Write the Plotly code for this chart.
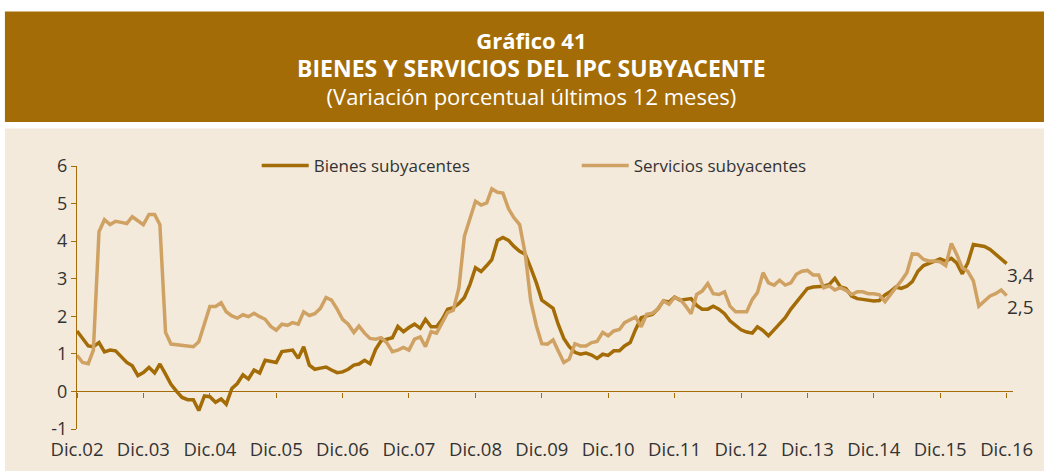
import pandas as pd
import plotly.graph_objects as go

# Monthly data, Dec-2002 .. Dec-2016
start_month = "2002-12-01"
n_months = 169
months = pd.date_range(start_month, periods=n_months, freq="MS")

bienes = [
    1.61, 1.41, 1.21, 1.19, 1.30, 1.05, 1.10, 1.08, 0.92, 0.77, 0.68, 0.42,
    0.50, 0.64, 0.49, 0.73, 0.46, 0.19, 0.00, -0.16, -0.22, -0.22, -0.51, -0.12,
    -0.14, -0.29, -0.20, -0.34, 0.08, 0.21, 0.44, 0.33, 0.57, 0.49, 0.83, 0.79,
    0.77, 1.06, 1.08, 1.10, 0.88, 1.19, 0.70, 0.59, 0.62, 0.65, 0.57, 0.50,
    0.52, 0.59, 0.70, 0.73, 0.83, 0.74, 1.12, 1.35, 1.39, 1.43, 1.73, 1.59,
    1.70, 1.79, 1.68, 1.92, 1.72, 1.72, 1.92, 2.19, 2.23, 2.34, 2.50, 2.85,
    3.29, 3.19, 3.35, 3.51, 4.02, 4.10, 4.02, 3.86, 3.73, 3.65, 3.29, 2.89,
    2.43, 2.32, 2.21, 1.79, 1.41, 1.19, 1.04, 0.99, 1.02, 0.97, 0.88, 0.99,
    0.96, 1.08, 1.08, 1.21, 1.30, 1.65, 1.96, 2.01, 2.05, 2.20, 2.41, 2.38,
    2.51, 2.43, 2.45, 2.47, 2.29, 2.19, 2.19, 2.27, 2.19, 2.07, 1.88, 1.76,
    1.64, 1.58, 1.55, 1.72, 1.62, 1.48, 1.65, 1.79, 1.96, 2.19, 2.36, 2.56,
    2.74, 2.78, 2.78, 2.80, 2.85, 3.01, 2.78, 2.74, 2.54, 2.47, 2.45, 2.43,
    2.41, 2.42, 2.57, 2.65, 2.78, 2.74, 2.80, 2.92, 3.20, 3.35, 3.42, 3.47,
    3.53, 3.47, 3.54, 3.42, 3.13, 3.42, 3.91, 3.89, 3.86, 3.78, 3.66, 3.54,
    3.40,
]

servicios = [
    0.96, 0.77, 0.74, 1.10, 4.25, 4.57, 4.44, 4.53, 4.50, 4.47, 4.65, 4.53,
    4.44, 4.71, 4.71, 4.44, 1.57, 1.26, 1.24, 1.22, 1.20, 1.19, 1.32, 1.79,
    2.26, 2.26, 2.36, 2.12, 2.01, 1.95, 2.04, 1.99, 2.08, 1.99, 1.92, 1.73,
    1.63, 1.79, 1.76, 1.83, 1.79, 2.12, 2.02, 2.07, 2.21, 2.50, 2.43, 2.19,
    1.92, 1.79, 1.57, 1.74, 1.55, 1.41, 1.39, 1.43, 1.30, 1.06, 1.10, 1.17,
    1.10, 1.39, 1.45, 1.19, 1.59, 1.55, 1.83, 2.10, 2.16, 2.76, 4.13, 4.62,
    5.06, 4.96, 5.02, 5.39, 5.30, 5.28, 4.86, 4.62, 4.44, 3.65, 2.41, 1.75,
    1.27, 1.26, 1.37, 1.08, 0.77, 0.86, 1.27, 1.21, 1.21, 1.30, 1.33, 1.57,
    1.48, 1.61, 1.65, 1.83, 1.90, 1.98, 1.72, 2.05, 2.08, 2.19, 2.41, 2.32,
    2.50, 2.45, 2.27, 2.07, 2.58, 2.67, 2.87, 2.60, 2.58, 2.65, 2.27, 2.12,
    2.12, 2.12, 2.45, 2.63, 3.16, 2.89, 2.83, 2.96, 2.83, 2.89, 3.12, 3.20,
    3.22, 3.10, 3.10, 2.76, 2.81, 2.70, 2.76, 2.69, 2.58, 2.65, 2.65, 2.60,
    2.60, 2.57, 2.39, 2.58, 2.76, 2.94, 3.16, 3.66, 3.65, 3.51, 3.47, 3.47,
    3.45, 3.35, 3.94, 3.65, 3.29, 3.20, 2.94, 2.27, 2.41, 2.54, 2.60, 2.70,
    2.55,
]

tick_dates = [f"{y}-12-01" for y in range(2002, 2017)]
tick_labels = [f"Dic.{y % 100:02d}" for y in range(2002, 2017)]
y_ticks = [-1, 0, 1, 2, 3, 4, 5, 6]
y_tick_labels = ["-1", "0", "1", "2", "3", "4", "5", "6"]
end_labels = ["3,4", "2,5"]

title_line1 = "Gráfico 41"
title_line2 = "BIENES Y SERVICIOS DEL IPC SUBYACENTE"
title_line3 = "(Variación porcentual últimos 12 meses)"

DARK = "#A36C06"
LIGHT = "#CFA263"
PANEL = "#F3EADC"
TEXT = "#333333"
FONT = "Open Sans"

fig = go.Figure()
fig.add_trace(go.Scatter(x=months, y=bienes, mode="lines", name="Bienes subyacentes",
                         line=dict(color=DARK, width=3.5)))
fig.add_trace(go.Scatter(x=months, y=servicios, mode="lines", name="Servicios subyacentes",
                         line=dict(color=LIGHT, width=3.5)))

# background panel and title band (paper coordinates)
fig.add_shape(type="rect", xref="paper", yref="paper", x0=-0.077, x1=1.04, y0=-0.3, y1=1.143,
              fillcolor=PANEL, line_width=0, layer="below")
fig.add_shape(type="rect", xref="paper", yref="paper", x0=-0.077, x1=1.04, y0=1.167, y1=1.587,
              fillcolor=DARK, line_width=0, layer="below")

title_text = (f"<span style='font-size:22px'><b>{title_line1}</b></span><br>"
              f"<span style='font-size:23px'><b>{title_line2}</b></span><br>"
              f"<span style='font-size:22px'>{title_line3}</span>")
fig.add_annotation(xref="paper", yref="paper", x=0.486, y=1.372, text=title_text,
                   showarrow=False, xanchor="center", yanchor="middle", align="center",
                   font=dict(family=FONT, size=21.5, color="white"))

# end labels
for val, txt in zip([bienes[-1], servicios[-1]], end_labels):
    fig.add_annotation(x=months[-1], y=val, text=txt, showarrow=False,
                       xanchor="left", yanchor="middle", xshift=-2, yshift=-11,
                       font=dict(family=FONT, size=19, color=TEXT))

fig.update_layout(
    width=1044, height=471,
    margin=dict(l=77, r=31, t=166, b=42),
    paper_bgcolor="white",
    plot_bgcolor="rgba(0,0,0,0)",
    font=dict(family=FONT, size=18, color=TEXT),
    showlegend=True,
    legend=dict(orientation="h", x=0.192, xanchor="left", y=1.0, yanchor="middle",
                bgcolor="rgba(0,0,0,0)", font=dict(family=FONT, size=17, color=TEXT),
                entrywidth=258, entrywidthmode="pixels", traceorder="normal",
                itemwidth=47),
    xaxis=dict(
        range=["2002-12-01", "2017-01-05"],
        tickmode="array", tickvals=tick_dates, ticktext=tick_labels,
        showgrid=False, zeroline=False,
        showline=True, linecolor=DARK, linewidth=1.3,
        ticks="outside", ticklen=5, tickwidth=1.3, tickcolor=DARK,
        anchor="free", position=1/7,
        ticklabelstandoff=36, automargin=False,
        tickfont=dict(family=FONT, size=18.5, color=TEXT),
    ),
    yaxis=dict(
        range=[-1, 6], tickmode="array", tickvals=y_ticks, ticktext=y_tick_labels,
        showgrid=False, zeroline=False, automargin=False,
        showline=True, linecolor=DARK, linewidth=1.3,
        ticks="outside", ticklen=5, tickwidth=1.3, tickcolor=DARK,
        tickfont=dict(family=FONT, size=18, color=TEXT),
    ),
)

fig.write_html("out.html", config={"displayModeBar": False},
               post_script="document.body.style.margin='0px';")
